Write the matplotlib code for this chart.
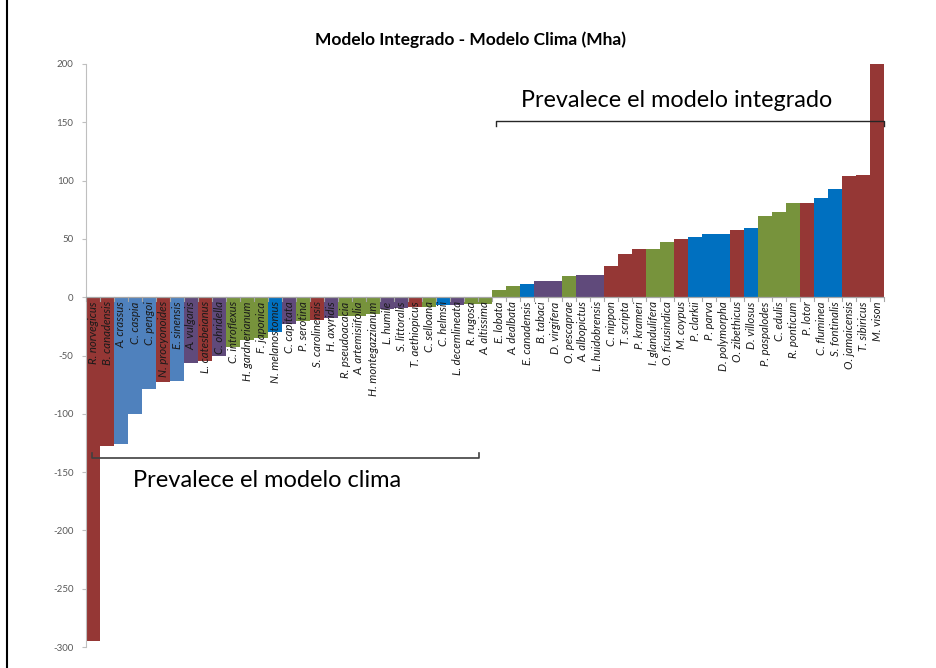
import numpy as np
import matplotlib.pyplot as plt
from matplotlib.transforms import offset_copy
from matplotlib.lines import Line2D

# ---------------- datos ----------------
especies = [
    'R. norvegicus', 'B. canadensis', 'A. crassus', 'C. caspia', 'C. pengoi',
    'N. procyonoides', 'E. sinensis', 'A. vulgaris', 'L. catesbeianus', 'C. ohridella',
    'C. introflexus', 'H. gardnerianum', 'F. japonica', 'N. melanostomus', 'C. capitata',
    'P. serotina', 'S. carolinensis', 'H. axyridis', 'R. pseudoacacia', 'A. artemisiifolia',
    'H. montegazzianum', 'L. humile', 'S. littoralis', 'T. aethiopicus', 'C. selloana',
    'C. helmsii', 'L. decemlineata', 'R. rugosa', 'A. altissima', 'E. lobata',
    'A. dealbata', 'E. canadensis', 'B. tabaci', 'D. virgifera', 'O. pescaprae',
    'A. albopictus', 'L. huidobrensis', 'C. nippon', 'T. scripta', 'P. krameri',
    'I. glandulifera', 'O. ficusindica', 'M. coypus', 'P. clarkii', 'P. parva',
    'D. polymorpha', 'O. zibethicus', 'D. villosus', 'P. paspalodes', 'C. edulis',
    'R. ponticum', 'P. lotor', 'C. fluminea', 'S. fontinalis', 'O. jamaicensis',
    'T. sibiricus', 'M. vison',
]

diferencia = [
    -295, -128, -126, -100, -79,
    -73, -72, -56, -55, -50,
    -43, -37, -35, -30, -23,
    -20, -19.5, -18, -16, -16,
    -14, -10, -9, -8.5, -8,
    -7, -7, -6, -5.5, 6.5,
    10, 11, 14, 14, 18.5,
    19, 19, 27, 37, 41,
    41, 47, 50, 52, 54,
    54, 58, 59, 70, 73,
    81, 81, 85, 93, 104,
    105, 200,
]

# grupo taxonomico de cada especie
grupo = [
    'mam', 'mam', 'inv', 'inv', 'inv',
    'mam', 'inv', 'ter', 'mam', 'ter',
    'pla', 'pla', 'pla', 'acu', 'ter',
    'pla', 'mam', 'ter', 'pla', 'pla',
    'pla', 'ter', 'ter', 'mam', 'pla',
    'acu', 'ter', 'pla', 'pla', 'pla',
    'pla', 'acu', 'ter', 'ter', 'pla',
    'ter', 'ter', 'mam', 'mam', 'mam',
    'pla', 'pla', 'mam', 'acu', 'acu',
    'acu', 'mam', 'acu', 'pla', 'pla',
    'pla', 'mam', 'acu', 'acu', 'mam',
    'mam', 'mam',
]

colores = {'mam': '#953735', 'inv': '#4F81BD', 'acu': '#0070C0',
           'pla': '#77933C', 'ter': '#604A7B'}

# ---------------- grafica ----------------
plt.rcParams['font.family'] = ['Lato', 'DejaVu Sans']
plt.rcParams['axes.unicode_minus'] = False

fig = plt.figure(figsize=(9.37, 6.68), dpi=100)
ax = fig.add_axes([0.0918, 0.0314, 0.8517, 0.8728])

x = np.arange(len(especies))
ax.bar(x, diferencia, width=1.0, color=[colores[g] for g in grupo], zorder=2)

ax.set_xlim(-0.5, len(especies) - 0.5)
ax.set_ylim(-300, 200)
ax.set_yticks(np.arange(-300, 201, 50))
ax.tick_params(axis='y', labelsize=7, colors='#595959', length=3, width=0.8, pad=6)
ax.tick_params(axis='y', color='#BFBFBF')

for s in ['top', 'right', 'bottom']:
    ax.spines[s].set_visible(False)
ax.spines['left'].set_color('#BFBFBF')
ax.set_xticks([])

# eje horizontal en cero con marcas en los limites de cada categoria
ax.axhline(0, color='#A6A6A6', lw=0.9, zorder=3)
for b in np.arange(-0.5, len(especies), 1.0):
    ax.plot([b, b], [0, -3.5], color='#A6A6A6', lw=0.8, zorder=3, clip_on=False)

# etiquetas de especie pegadas al eje
trans = offset_copy(ax.transData, fig=fig, x=0, y=-3, units='points')
for i, nombre in enumerate(especies):
    ax.text(i, 0, nombre, rotation=90, ha='center', va='top', fontsize=8.2,
            style='italic', color='#1a1a1a', transform=trans, zorder=4)

ax.set_title('Modelo Integrado - Modelo Clima (Mha)', fontsize=12.5,
             fontweight='bold', pad=14, x=0.482)

# llaves de las dos zonas
ax.plot([28.8, 28.8, 56.5, 56.5], [147, 151, 151, 147], color='#262626',
        lw=1.0, zorder=5, clip_on=False)
ax.text(30.6, 169, 'Prevalece el modelo integrado', fontsize=16.8,
        va='center', ha='left', color='#000000')

ax.plot([-0.05, -0.05, 27.6, 27.6], [-134, -138, -138, -134], color='#404040',
        lw=1.2, zorder=5, clip_on=False)
ax.text(2.86, -157, 'Prevalece el modelo clima', fontsize=17,
        va='center', ha='left', color='#000000')

# marco del grafico
fig.add_artist(Line2D([0.0075, 0.0075], [0, 1], color='black', lw=1.5,
                      transform=fig.transFigure))

fig.savefig('out.png', dpi=100)
